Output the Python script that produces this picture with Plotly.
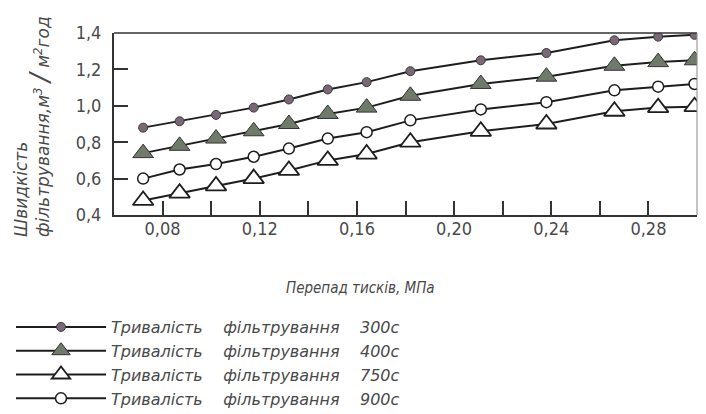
import plotly.graph_objects as go

# ---- data ----
pressure = [0.072, 0.087, 0.102, 0.1175, 0.132, 0.148, 0.164, 0.182, 0.211, 0.238, 0.266, 0.284, 0.299]
rate_300 = [0.88, 0.915, 0.95, 0.99, 1.035, 1.09, 1.13, 1.19, 1.25, 1.29, 1.36, 1.38, 1.39]
rate_400 = [0.74, 0.78, 0.82, 0.86, 0.90, 0.955, 0.99, 1.055, 1.12, 1.16, 1.22, 1.24, 1.25]
rate_750 = [0.48, 0.52, 0.56, 0.60, 0.645, 0.70, 0.735, 0.80, 0.86, 0.90, 0.97, 0.99, 0.995]
rate_900 = [0.60, 0.65, 0.68, 0.72, 0.765, 0.82, 0.855, 0.92, 0.98, 1.02, 1.085, 1.105, 1.12]

durations = ["300с", "400с", "750с", "900с"]
GAP = "\u00a0" * 4
series_names = ["Тривалість" + GAP + "фільтрування" + GAP + d for d in durations]

x_tickvals = [0.08, 0.10, 0.12, 0.14, 0.16, 0.18, 0.20, 0.22, 0.24, 0.26, 0.28]
x_ticktext = ["0,08", "", "0,12", "", "0,16", "", "0,20", "", "0,24", "", "0,28"]
y_tickvals = [0.4, 0.6, 0.8, 1.0, 1.2, 1.4]
y_ticktext = ["0,4", "0,6", "0,8", "1,0", "1,2", "1,4"]

FONT = "DejaVu Sans Condensed, DejaVu Sans, sans-serif"
WIDE = "DejaVu Sans, sans-serif"
TXT = "#4a4a4a"
LINE = "#1e1e1e"

fig = go.Figure()

fig.add_trace(go.Scatter(x=pressure, y=rate_300, mode="lines+markers", name=series_names[0],
                         line=dict(color=LINE, width=2),
                         marker=dict(symbol="circle", size=9, color="#7a6876",
                                     line=dict(color="#3a3a3a", width=1))))
fig.add_trace(go.Scatter(x=pressure, y=rate_400, mode="lines+markers", name=series_names[1],
                         line=dict(color=LINE, width=2),
                         marker=dict(symbol="triangle-up", size=18, color="#6f7a6a",
                                     line=dict(color="#333333", width=1))))
fig.add_trace(go.Scatter(x=pressure, y=rate_750, mode="lines+markers", name=series_names[2],
                         line=dict(color=LINE, width=2),
                         marker=dict(symbol="triangle-up", size=18, color="white",
                                     line=dict(color=LINE, width=1.8))))
fig.add_trace(go.Scatter(x=pressure, y=rate_900, mode="lines+markers", name=series_names[3],
                         line=dict(color=LINE, width=2),
                         marker=dict(symbol="circle", size=11, color="white",
                                     line=dict(color=LINE, width=1.5))))

fig.update_layout(
    width=706, height=414,
    margin=dict(l=106, r=17, t=25, b=207, autoexpand=False),
    paper_bgcolor="white", plot_bgcolor="white",
    font=dict(family=FONT, color=TXT, size=17),
    showlegend=True,
    legend=dict(xref="container", yref="container", x=3/706, y=(414-302)/414,
                xanchor="left", yanchor="top", itemwidth=90,
                font=dict(family=WIDE, size=16, color=TXT, style="italic"),
                bgcolor="rgba(0,0,0,0)", tracegroupgap=0),
    xaxis=dict(range=[0.06, 0.30], tickvals=x_tickvals, ticktext=x_ticktext,
               ticks="inside", ticklen=14, tickwidth=1.5, tickcolor="#333",
               showline=True, linecolor="#333", linewidth=2, showgrid=False, zeroline=False,
               tickfont=dict(size=18, color=TXT, family=FONT), ticklabelstandoff=-4),
    yaxis=dict(range=[0.4, 1.4], tickvals=y_tickvals, ticktext=y_ticktext,
               ticks="inside", ticklen=14, tickwidth=1.5, tickcolor="#333",
               showline=True, linecolor="#333", linewidth=2, showgrid=False, zeroline=False,
               tickfont=dict(size=18, color=TXT, family=FONT), ticklabelstandoff=7),
    shapes=[
        dict(type="line", xref="paper", yref="paper", x0=0, x1=1, y0=1, y1=1,
             line=dict(color="#333", width=1.5)),
        dict(type="line", xref="paper", yref="paper", x0=1, x1=1, y0=0, y1=1,
             line=dict(color="#888", width=1)),
    ],
    annotations=[
        dict(xref="paper", yref="paper", x=(360-114)/583, y=(215-288)/182,
             xanchor="center", yanchor="middle", showarrow=False,
             text="Перепад тисків, МПа",
             font=dict(size=15, color=TXT, family=FONT, style="italic")),
        dict(xref="paper", yref="paper", x=(33-114)/583, y=(215-127)/182,
             xanchor="center", yanchor="middle", showarrow=False, textangle=-90, align="left",
             text="Швидкість<br>фільтрування,м<sup>3</sup> <span style=\"font-size:26px\">/</span> м<sup>2</sup>год",
             font=dict(size=17, color=TXT, family=WIDE, style="italic")),
    ],
)

fig.write_html("out.html")
